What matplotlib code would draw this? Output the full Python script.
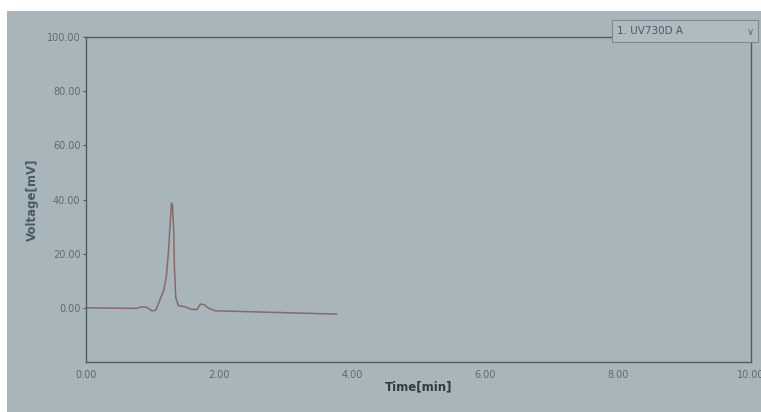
import matplotlib
matplotlib.use("Agg")
import matplotlib.pyplot as plt
from matplotlib.patches import Rectangle

# ---- data ----
time_min = [0.00, 0.76, 0.84, 0.91, 0.99, 1.05, 1.11, 1.17, 1.21, 1.24, 1.265,
            1.285, 1.30, 1.32, 1.33, 1.35, 1.39, 1.49, 1.59, 1.67, 1.72, 1.78,
            1.84, 1.94, 3.77]
voltage_mv = [0.0, -0.2, 0.4, 0.2, -1.1, -0.9, 2.8, 6.5, 12.0, 20.8, 30.7,
              38.7, 37.8, 28.0, 14.6, 3.7, 0.8, 0.4, -0.6, -0.6, 1.4, 1.1,
              -0.1, -1.1, -2.3]
x_ticks = [0, 2, 4, 6, 8, 10]
y_ticks = [0, 20, 40, 60, 80, 100]
channel_label = "1. UV730D A"

W, H = 761, 412
fig = plt.figure(figsize=(W / 100, H / 100), dpi=100, facecolor="white")

bg = "#a8b6bb"
fig.add_artist(Rectangle((7 / W, 0), 1 - 7 / W, 1 - 11 / H,
                         transform=fig.transFigure, facecolor=bg,
                         edgecolor="none", zorder=-10))

left, right, top, bottom = 86, 751, 37, 362
ax = fig.add_axes([left / W, 1 - bottom / H, (right - left) / W, (bottom - top) / H])
ax.set_facecolor(bg)
ax.plot(time_min, voltage_mv, color="#8a6868", lw=1.1)
ax.set_xlim(0, 10)
ax.set_ylim(-20, 100)
ax.set_xticks(x_ticks)
ax.set_xticklabels([f"{v:.2f}" for v in x_ticks])
ax.set_yticks(y_ticks)
ax.set_yticklabels([f"{v:.2f}" for v in y_ticks])
for s in ax.spines.values():
    s.set_color("#4f5a62")
    s.set_linewidth(1.0)
ax.tick_params(axis="both", colors="#4f5a62", labelcolor="#5d6a72",
               labelsize=7, length=2, width=0.8, pad=2)
ax.tick_params(axis="x", length=0, pad=6)
ax.set_xlabel("Time[min]", fontsize=8.5, fontweight="bold", color="#2f3a42", labelpad=0)
ax.set_ylabel("Voltage[mV]", fontsize=8.5, fontweight="bold", color="#4a5a66", labelpad=6)

# channel dropdown
fig.add_artist(Rectangle((612 / W, 1 - 42 / H), 146 / W, 22 / H,
                         transform=fig.transFigure, facecolor="#aebbc1",
                         edgecolor="#7d8a92", lw=0.8, zorder=5))
fig.text(617 / W, 1 - 31 / H, channel_label, fontsize=7.5, color="#4f5a62",
         va="center", ha="left", zorder=6)
fig.text(750 / W, 1 - 32 / H, "\u2228", fontsize=7, color="#5d6a72",
         va="center", ha="center", zorder=6)

fig.savefig("out.png", dpi=100, facecolor="white")
